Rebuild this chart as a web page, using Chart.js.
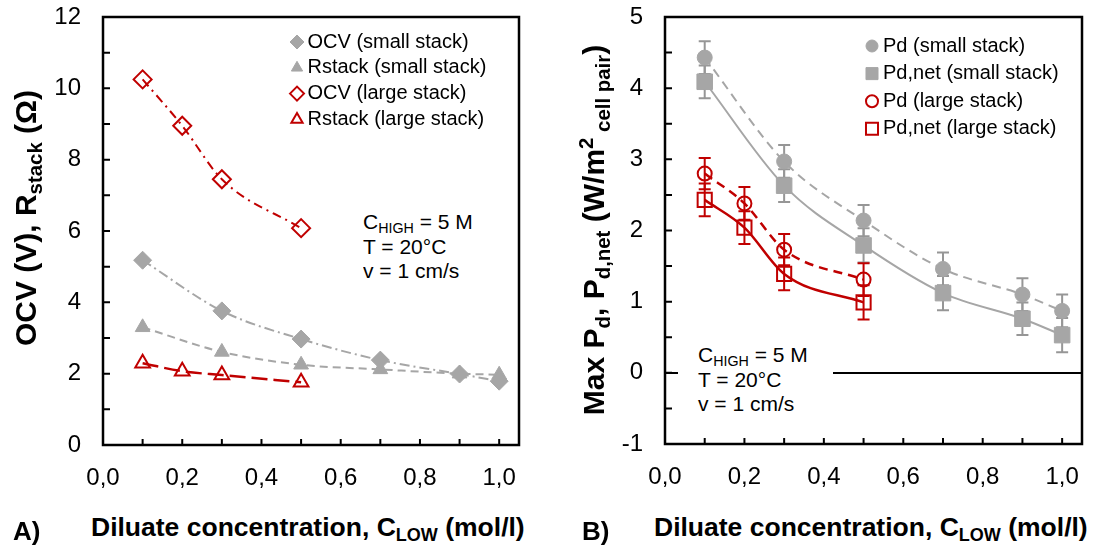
<!DOCTYPE html>
<html>
<head>
<meta charset="utf-8">
<script src="https://cdn.jsdelivr.net/npm/chart.js@4.4.1/dist/chart.umd.min.js"></script>
<style>
  body { margin: 0; background: #fff; font-family: "Liberation Sans", Arial, sans-serif; }
  #page { position: relative; width: 1094px; height: 555px; overflow: hidden; }
  canvas { position: absolute; top: 0; }
  .t { position: absolute; white-space: nowrap; color: #000; }
  .ytitle { font-weight: bold; transform: translate(-50%, -50%) rotate(-90deg); }
  .xtitle { font-weight: bold; font-size: 26.5px; transform: translateY(-50%); }
  .panel { font-weight: bold; font-size: 26px; transform: translateY(-50%); }
  .note { font-size: 21px; line-height: 24.5px; background: #fff; }
  sub, sup { font-size: 0.68em; line-height: 0; }
  sub { vertical-align: -0.3em; }
  sup { vertical-align: 0.55em; }
</style>
</head>
<body>
<div id="page">
  <canvas id="chartA" width="540" height="500" style="left:0"></canvas>
  <canvas id="chartB" width="549" height="500" style="left:545px"></canvas>

  <div class="t ytitle" style="left:26px; top:218px; font-size:30px">OCV (V), R<sub>stack</sub> (Ω)</div>
  <div class="t ytitle" style="left:594px; top:230px; font-size:30px">Max P<sub>d</sub>, P<sub>d,net</sub> (W/m<sup>2</sup><sub> cell pair</sub>)</div>

  <div class="t panel" style="left:13px; top:531px">A)</div>
  <div class="t xtitle" style="left:91px; top:527px">Diluate concentration, C<sub>LOW</sub> (mol/l)</div>
  <div class="t panel" style="left:582px; top:531px">B)</div>
  <div class="t xtitle" style="left:654px; top:527px">Diluate concentration, C<sub>LOW</sub> (mol/l)</div>

  <div class="t note" style="left:363px; top:210px">C<sub>HIGH</sub> = 5 M<br>T = 20°C<br>v = 1 cm/s</div>
  <div class="t note" style="left:678px; top:343px; padding:0 25px 0 20px">C<sub>HIGH</sub> = 5 M<br>T = 20°C<br>v = 1 cm/s</div>
</div>

<script>
// concentrations (mol/l)
const xSmall = [0.1, 0.3, 0.5, 0.7, 0.9, 1.0];
const xLarge = [0.1, 0.2, 0.3, 0.5];

// panel A: OCV (V) and stack resistance (ohm)
const ocvSmall = [5.18, 3.76, 2.97, 2.38, 1.99, 1.79];
const rstackSmall = [3.30, 2.61, 2.25, 2.12, 2.00, 1.97];
const ocvLarge = [10.25, 8.95, 7.45, 6.08];
const rstackLarge = [2.29, 2.07, 1.96, 1.76];

// panel B: max power density (W/m2 cell pair) with error
const pdSmall = [4.43, 2.97, 2.14, 1.46, 1.10, 0.87];
const pdSmallErr = [0.23, 0.23, 0.22, 0.23, 0.23, 0.23];
const pdNetSmall = [4.09, 2.63, 1.79, 1.12, 0.76, 0.53];
const pdNetSmallErr = [0.23, 0.23, 0.24, 0.24, 0.23, 0.24];
const pdLarge = [2.80, 2.38, 1.73, 1.31];
const pdLargeErr = [0.22, 0.23, 0.22, 0.23];
const pdNetLarge = [2.43, 2.04, 1.39, 0.99];
const pdNetLargeErr = [0.23, 0.23, 0.23, 0.24];

const labelsA = ['OCV (small stack)', 'Rstack (small stack)', 'OCV (large stack)', 'Rstack (large stack)'];
const labelsB = ['Pd (small stack)', 'Pd,net (small stack)', 'Pd (large stack)', 'Pd,net (large stack)'];

const GRAY = '#a6a6a6';
const GRAY_ERR = '#969696';
const RED = '#c00000';
const NONE = 'rgba(0,0,0,0)';
const FONT = '"Liberation Sans", Arial, sans-serif';
const tickFont = { family: FONT, size: 24 };

const pts = (xs, ys) => xs.map((x, i) => ({ x: x, y: ys[i] }));

function xLabel(v) {
  const k = Math.round(v * 10);
  return k % 2 === 0 ? (k / 10).toFixed(1).replace('.', ',') : '';
}

// fixed axis sizes so the plot box lands where it is in the figure
function axes(yMin, yMax, yStep, yMajor, yWidth, xHeight, zeroLine) {
  return {
    x: {
      type: 'linear', min: 0, max: 1.05,
      afterFit: s => { s.height = xHeight; s.paddingLeft = 0; s.paddingRight = 0; },
      border: { display: false },
      grid: { display: false, drawTicks: false },
      ticks: { stepSize: 0.1, includeBounds: false, autoSkip: false, maxRotation: 0, padding: 19,
               color: '#000', font: tickFont, callback: xLabel }
    },
    y: {
      type: 'linear', min: yMin, max: yMax,
      afterFit: s => { s.width = yWidth; s.paddingTop = 0; s.paddingBottom = 0; },
      border: { display: false },
      grid: { display: zeroLine, drawTicks: false, lineWidth: 2,
              color: c => (c.tick && c.tick.value === 0) ? '#000' : NONE },
      ticks: { stepSize: yStep, includeBounds: false, autoSkip: false, padding: 22, color: '#000', font: tickFont,
               callback: v => Math.abs(v / yMajor - Math.round(v / yMajor)) < 1e-6 ? String(Math.round(v)) : '' }
    }
  };
}

// box around the plot area, with inward tick marks
const frame = {
  id: 'frame',
  afterDatasetsDraw(chart) {
    const a = chart.chartArea, ctx = chart.ctx, sx = chart.scales.x, sy = chart.scales.y;
    ctx.save();
    ctx.strokeStyle = '#000';
    ctx.lineWidth = 2;
    ctx.beginPath();
    sx.ticks.forEach(t => {
      const px = sx.getPixelForValue(t.value);
      ctx.moveTo(px, a.bottom); ctx.lineTo(px, a.bottom - 6);
    });
    sy.ticks.forEach(t => {
      const py = sy.getPixelForValue(t.value);
      ctx.moveTo(a.left, py); ctx.lineTo(a.left + 7, py);
    });
    ctx.stroke();
    ctx.lineWidth = 2.5;
    ctx.strokeRect(a.left, a.top, a.right - a.left, a.bottom - a.top);
    ctx.restore();
  }
};

// vertical error bars, under the markers
const errorBars = {
  id: 'errorBars',
  beforeDatasetsDraw(chart) {
    const ctx = chart.ctx, xs = chart.scales.x, ys = chart.scales.y;
    chart.data.datasets.forEach(ds => {
      if (!ds.errors) return;
      ctx.save();
      ctx.strokeStyle = ds.errorColor;
      ctx.lineWidth = 2;
      ds.data.forEach((p, i) => {
        const x = xs.getPixelForValue(p.x);
        const lo = ys.getPixelForValue(p.y - ds.errors[i]);
        const hi = ys.getPixelForValue(p.y + ds.errors[i]);
        ctx.beginPath();
        ctx.moveTo(x, lo); ctx.lineTo(x, hi);
        ctx.moveTo(x - 6, lo); ctx.lineTo(x + 6, lo);
        ctx.moveTo(x - 6, hi); ctx.lineTo(x + 6, hi);
        ctx.stroke();
      });
      ctx.restore();
    });
  }
};

// legend inside the plot, drawn from the datasets
function boxLegend(x, y, dy, gap) {
  return {
    id: 'boxLegend',
    afterDraw(chart) {
      const ctx = chart.ctx;
      ctx.save();
      ctx.font = '20px ' + FONT;
      ctx.textBaseline = 'middle';
      chart.data.datasets.forEach((ds, i) => {
        const yy = y + i * dy;
        ctx.fillStyle = ds.pointBackgroundColor;
        ctx.strokeStyle = ds.pointBorderColor;
        ctx.lineWidth = ds.pointBorderWidth;
        Chart.helpers.drawPoint(ctx, { pointStyle: ds.pointStyle, rotation: 0, radius: ds.legendRadius,
                                       borderWidth: ds.pointBorderWidth }, x, yy);
        ctx.fillStyle = '#000';
        ctx.fillText(ds.label, x + gap, yy);
      });
      ctx.restore();
    }
  };
}

function series(label, data, o) {
  return Object.assign({
    label: label, data: data, showLine: true, cubicInterpolationMode: 'monotone',
    borderWidth: 2, pointBorderWidth: 1
  }, o);
}

new Chart(document.getElementById('chartA'), {
  type: 'scatter',
  data: {
    datasets: [
      series(labelsA[0], pts(xSmall, ocvSmall), { pointStyle: 'rectRot', pointRadius: 9, legendRadius: 7,
        pointBackgroundColor: GRAY, pointBorderColor: GRAY, borderColor: GRAY, borderDash: [10, 4, 2, 4] }),
      series(labelsA[1], pts(xSmall, rstackSmall), { pointStyle: 'triangle', pointRadius: 8.5, legendRadius: 6.5,
        pointBackgroundColor: GRAY, pointBorderColor: GRAY, borderColor: GRAY, borderDash: [8, 5] }),
      series(labelsA[2], pts(xLarge, ocvLarge), { pointStyle: 'rectRot', pointRadius: 9, legendRadius: 7,
        pointBackgroundColor: NONE, pointBorderColor: RED, pointBorderWidth: 2, borderColor: RED, borderDash: [9, 5, 2, 5] }),
      series(labelsA[3], pts(xLarge, rstackLarge), { pointStyle: 'triangle', pointRadius: 8.5, legendRadius: 6.5,
        pointBackgroundColor: NONE, pointBorderColor: RED, pointBorderWidth: 2, borderColor: RED, borderWidth: 2.5, borderDash: [16, 6] })
    ]
  },
  plugins: [frame, boxLegend(297, 42, 25.8, 10.5)],
  options: {
    responsive: false, animation: false, events: [],
    layout: { padding: { left: 0, right: 21, top: 17, bottom: 0 } },
    plugins: { legend: { display: false }, tooltip: { enabled: false } },
    scales: axes(0, 12, 1, 2, 103, 55, false)
  }
});

new Chart(document.getElementById('chartB'), {
  type: 'scatter',
  data: {
    datasets: [
      series(labelsB[0], pts(xSmall, pdSmall), { errors: pdSmallErr, errorColor: GRAY_ERR, pointStyle: 'circle',
        pointRadius: 7.5, legendRadius: 6, pointBackgroundColor: GRAY, pointBorderColor: GRAY,
        borderColor: GRAY, borderDash: [9, 6] }),
      series(labelsB[1], pts(xSmall, pdNetSmall), { errors: pdNetSmallErr, errorColor: GRAY_ERR, pointStyle: 'rect',
        pointRadius: 11, legendRadius: 8.5, pointBackgroundColor: GRAY, pointBorderColor: GRAY,
        borderColor: GRAY }),
      series(labelsB[2], pts(xLarge, pdLarge), { errors: pdLargeErr, errorColor: RED, pointStyle: 'circle',
        pointRadius: 7, legendRadius: 6, pointBackgroundColor: NONE, pointBorderColor: RED, pointBorderWidth: 2,
        borderColor: RED, borderWidth: 2.5, borderDash: [9, 6] }),
      series(labelsB[3], pts(xLarge, pdNetLarge), { errors: pdNetLargeErr, errorColor: RED, pointStyle: 'rect',
        pointRadius: 10, legendRadius: 8.5, pointBackgroundColor: NONE, pointBorderColor: RED, pointBorderWidth: 2,
        borderColor: RED, borderWidth: 2.5 })
    ]
  },
  plugins: [errorBars, frame, boxLegend(327, 46, 27.6, 11)],
  options: {
    responsive: false, animation: false, events: [],
    layout: { padding: { left: 0, right: 7, top: 17, bottom: 0 } },
    plugins: { legend: { display: false }, tooltip: { enabled: false } },
    scales: axes(-1, 5, 0.5, 1, 120, 56, true)
  }
});
</script>
</body>
</html>
